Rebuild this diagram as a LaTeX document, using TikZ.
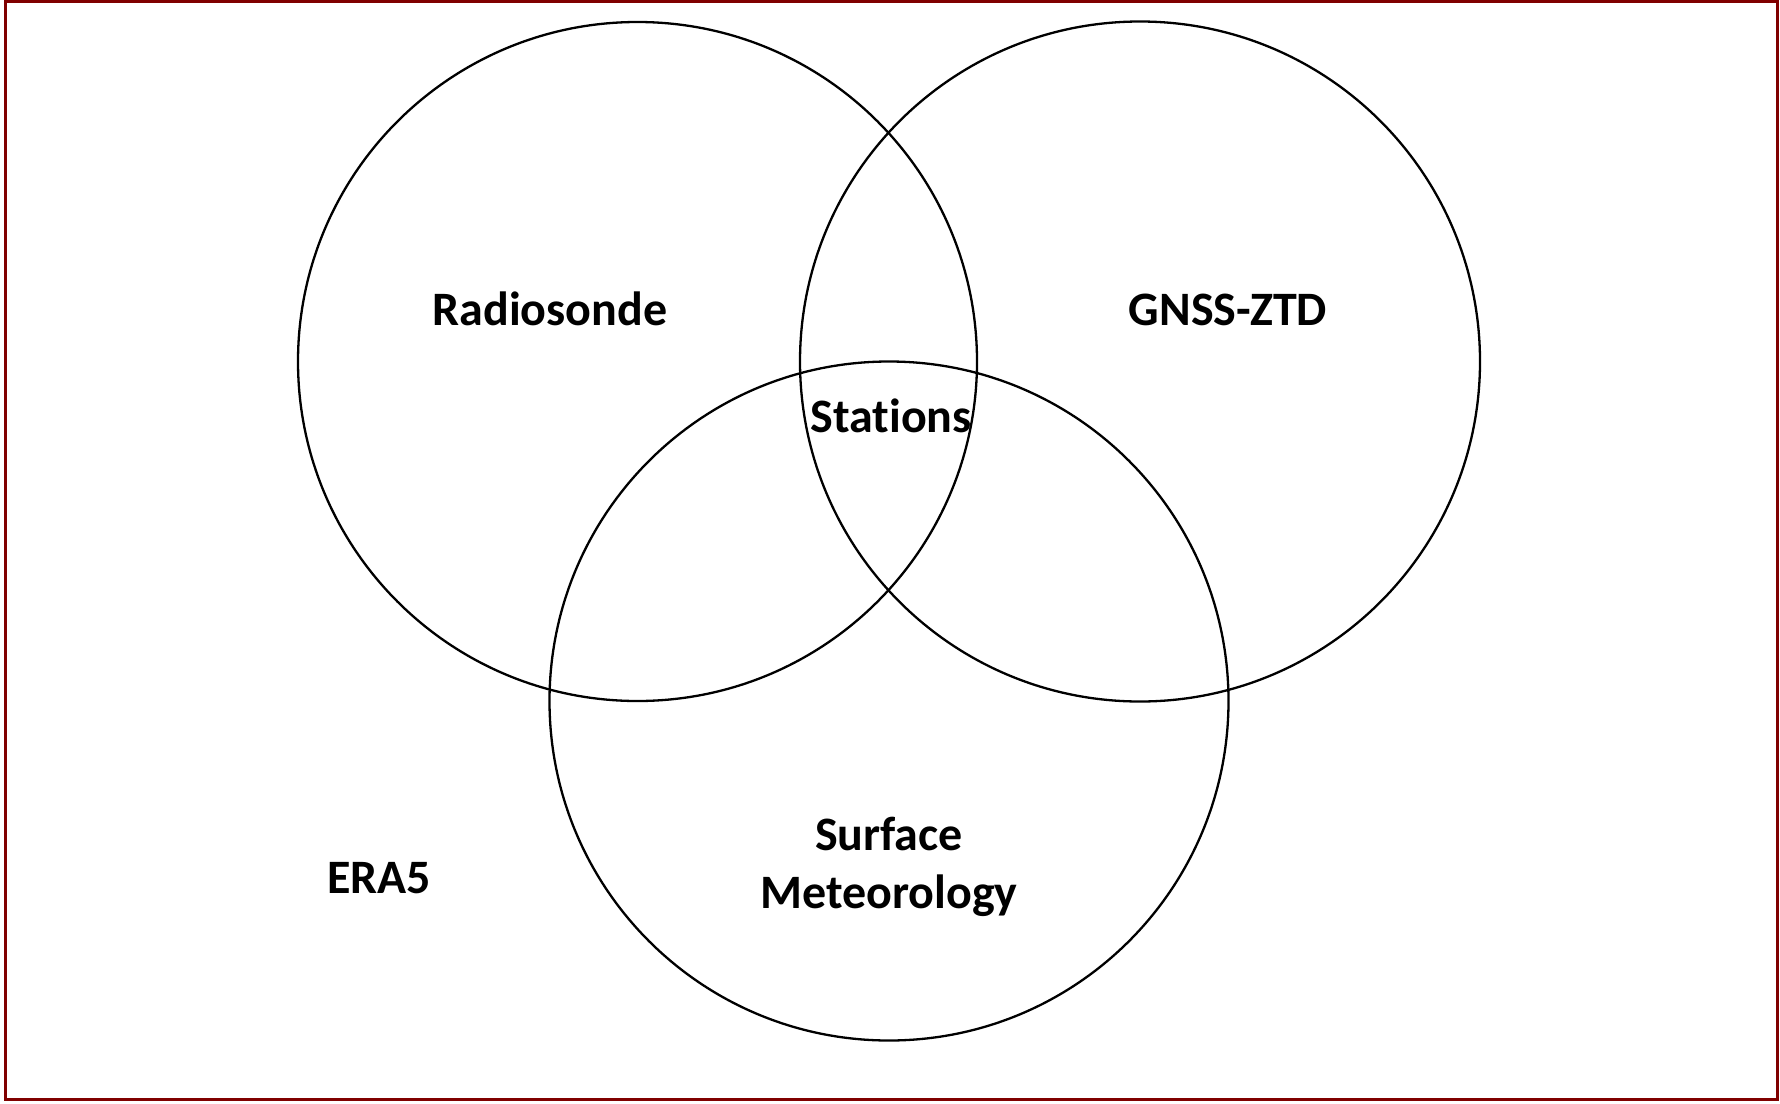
\documentclass[tikz,border=0pt]{standalone}
\usepackage{fontspec}
\setmainfont[RawFeature={-liga}]{Carlito}
\begin{document}
\begin{tikzpicture}[x=1pt,y=-1pt,
  ring/.style={draw=black, line width=2.3pt},
  setlabel/.style={font=\bfseries\fontsize{48}{58}\selectfont, inner sep=0pt, anchor=base, align=center},
  frame/.style={draw={rgb,255:red,128;green,0;blue,0}, line width=3pt}]
  \useasboundingbox (0,0) rectangle (1780,1103);
  \draw[frame] (5.5,1.5) rectangle (1777,1099);
  % three overlapping sets
  \node[ring, circle, minimum size=679pt, inner sep=0pt] (radio) at (637.5,361.5) {};
  \node[ring, circle, minimum size=680pt, inner sep=0pt] (gnss) at (1140,361.5) {};
  \node[ring, circle, minimum size=679pt, inner sep=0pt] (surf) at (889,701) {};
  % set labels
  \node[setlabel] (lradio) at (550,325) {Radiosonde};
  \node[setlabel] (lgnss) at (1228,325) {GNSS-ZTD};
  \node[setlabel] (lstat) at (891,432) {Stations};
  \node[setlabel] (lsurf) at (889,908) {Surface\\Meteorology};
  \node[setlabel] (lera) at (379,893) {ERA5};
\end{tikzpicture}
\end{document}
